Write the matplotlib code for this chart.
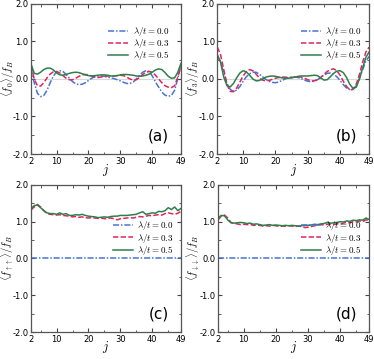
import matplotlib
matplotlib.use("Agg")
import matplotlib.pyplot as plt
from matplotlib.ticker import FixedLocator, MultipleLocator

plt.rcParams['mathtext.fontset'] = 'cm'
plt.rcParams['font.family'] = ['DejaVu Sans']

j = list(range(2, 50))
xticks = [2, 10, 20, 30, 40, 49]
yticks = [-2.0, -1.0, 0.0, 1.0, 2.0]
ytick_labels = ["-2.0", "-1.0", "0.0", "1.0", "2.0"]
labels = [r'$\lambda/t=0.0$', r'$\lambda/t=0.3$', r'$\lambda/t=0.5$']
panel_tags = ["(a)", "(b)", "(c)", "(d)"]
ylabels = [r'$\langle f_0\rangle/f_B$', r'$\langle f_3\rangle/f_B$',
           r'$\langle f_{\uparrow\uparrow}\rangle/f_B$', r'$\langle f_{\downarrow\downarrow}\rangle/f_B$']

# panel (a)
f0_l00 = [0.30, -0.10, -0.38, -0.47, -0.44, -0.30, -0.10, 0.08, 0.19, 0.22,
          0.20, 0.12, 0.02, -0.07, -0.13, -0.15, -0.14, -0.10, -0.04, 0.02,
          0.06, 0.08, 0.08, 0.07, 0.05, 0.03, 0.01, -0.02, -0.05, -0.09,
          -0.12, -0.12, -0.08, 0.00, 0.10, 0.18, 0.22, 0.20, 0.08, -0.08,
          -0.22, -0.35, -0.43, -0.46, -0.44, -0.30, 0.02, 0.38]
f0_l03 = [0.35, 0.00, -0.18, -0.19, -0.10, 0.03, 0.13, 0.19, 0.20, 0.16,
          0.09, 0.02, -0.02, -0.02, 0.02, 0.07, 0.11, 0.12, 0.11, 0.08,
          0.05, 0.04, 0.05, 0.07, 0.08, 0.08, 0.08, 0.09, 0.10, 0.09,
          0.05, 0.00, -0.03, -0.02, 0.04, 0.12, 0.18, 0.20, 0.18, 0.10,
          0.00, -0.10, -0.18, -0.22, -0.23, -0.18, 0.05, 0.35]
f0_l05 = [0.40, 0.15, 0.13, 0.18, 0.25, 0.29, 0.29, 0.24, 0.16, 0.11,
          0.10, 0.12, 0.15, 0.17, 0.18, 0.17, 0.14, 0.11, 0.09, 0.08,
          0.09, 0.10, 0.11, 0.11, 0.10, 0.08, 0.08, 0.09, 0.11, 0.12,
          0.12, 0.11, 0.10, 0.08, 0.07, 0.08, 0.10, 0.13, 0.18, 0.24,
          0.27, 0.25, 0.17, 0.07, 0.02, 0.03, 0.18, 0.42]
# panel (b)
f3_l00 = [0.62, 0.45, 0.15, -0.12, -0.28, -0.33, -0.30, -0.20, -0.06, 0.06,
          0.14, 0.18, 0.18, 0.13, 0.06, -0.01, -0.06, -0.09, -0.10, -0.08,
          -0.04, 0.00, 0.03, 0.05, 0.05, 0.04, 0.01, -0.03, -0.06, -0.07,
          -0.06, -0.02, 0.04, 0.10, 0.15, 0.16, 0.13, 0.06, -0.04, -0.15,
          -0.24, -0.28, -0.27, -0.18, 0.02, 0.25, 0.48, 0.60]
f3_l03 = [0.85, 0.65, 0.25, -0.15, -0.33, -0.34, -0.24, -0.08, 0.08, 0.20,
          0.25, 0.22, 0.13, 0.03, -0.03, -0.05, -0.04, -0.01, 0.02, 0.04,
          0.05, 0.05, 0.04, 0.04, 0.05, 0.06, 0.05, 0.02, -0.02, -0.05,
          -0.05, -0.02, 0.04, 0.12, 0.20, 0.25, 0.27, 0.22, 0.10, -0.06,
          -0.20, -0.29, -0.28, -0.14, 0.12, 0.45, 0.72, 0.85]
f3_l05 = [0.65, 0.45, 0.05, -0.18, -0.21, -0.12, 0.03, 0.16, 0.22, 0.19,
          0.10, 0.00, -0.05, -0.04, 0.00, 0.05, 0.07, 0.08, 0.07, 0.05,
          0.03, 0.02, 0.02, 0.03, 0.05, 0.07, 0.08, 0.08, 0.08, 0.09,
          0.10, 0.09, 0.03, -0.03, -0.02, 0.06, 0.15, 0.21, 0.22, 0.17,
          0.04, -0.14, -0.25, -0.22, 0.00, 0.30, 0.58, 0.72]
# panel (c)
fuu_l00 = [0.0] * 48
fuu_l03 = [1.32, 1.40, 1.47, 1.40, 1.30, 1.22, 1.20, 1.19, 1.18, 1.19,
           1.17, 1.16, 1.15, 1.13, 1.14, 1.12, 1.13, 1.11, 1.10, 1.11,
           1.10, 1.09, 1.10, 1.08, 1.09, 1.10, 1.08, 1.05, 1.08, 1.09,
           1.10, 1.11, 1.10, 1.12, 1.14, 1.13, 1.15, 1.17, 1.16, 1.18,
           1.19, 1.18, 1.22, 1.24, 1.22, 1.20, 1.23, 1.28]
fuu_l05 = [1.35, 1.44, 1.45, 1.38, 1.30, 1.24, 1.22, 1.22, 1.20, 1.24,
           1.20, 1.22, 1.17, 1.17, 1.19, 1.18, 1.20, 1.17, 1.15, 1.14,
           1.13, 1.11, 1.12, 1.13, 1.12, 1.14, 1.15, 1.15, 1.17, 1.17,
           1.17, 1.18, 1.19, 1.20, 1.24, 1.27, 1.20, 1.22, 1.24, 1.23,
           1.28, 1.27, 1.30, 1.38, 1.33, 1.40, 1.30, 1.36]
# panel (d)
fdd_l00 = [0.0] * 48
fdd_l03 = [1.05, 1.15, 1.18, 1.10, 0.98, 0.95, 0.94, 0.92, 0.93, 0.92,
           0.93, 0.90, 0.91, 0.90, 0.88, 0.89, 0.88, 0.90, 0.89, 0.87,
           0.88, 0.88, 0.89, 0.88, 0.87, 0.88, 0.87, 0.84, 0.85, 0.87,
           0.89, 0.90, 0.92, 0.91, 0.93, 0.94, 0.92, 0.95, 0.94, 0.96,
           0.98, 0.97, 1.00, 0.99, 1.02, 1.00, 1.05, 1.04]
fdd_l05 = [1.10, 1.17, 1.16, 1.05, 0.97, 0.96, 0.97, 0.98, 0.97, 0.95,
           0.96, 0.93, 0.94, 0.92, 0.90, 0.91, 0.92, 0.90, 0.91, 0.90,
           0.89, 0.90, 0.89, 0.90, 0.89, 0.88, 0.89, 0.90, 0.90, 0.91,
           0.93, 0.92, 0.94, 0.95, 0.98, 0.96, 0.97, 0.98, 1.00, 0.99,
           1.02, 1.01, 1.04, 1.03, 1.05, 1.04, 1.10, 1.06]

panels = [(f0_l00, f0_l03, f0_l05), (f3_l00, f3_l03, f3_l05),
          (fuu_l00, fuu_l03, fuu_l05), (fdd_l00, fdd_l03, fdd_l05)]

colors = ['#4674d6', '#e0245e', '#2f7f4a']
styles = [(0, (4, 1.2, 1, 1.2)), (0, (3.5, 1.5)), '-']

fig = plt.figure(figsize=(3.74, 3.59), dpi=100)
rects = [[0.083, 0.571, 0.401, 0.418], [0.581, 0.571, 0.406, 0.418],
         [0.083, 0.075, 0.401, 0.41], [0.583, 0.075, 0.404, 0.41]]
leg_anchor = [(0.92, 0.86), (0.95, 0.86), (0.95, 0.765), (0.95, 0.765)]
ylab_x = [-0.155, -0.16, -0.155, -0.165]

for k, (rect, series) in enumerate(zip(rects, panels)):
    ax = fig.add_axes(rect)
    if k < 2:
        ax.axhline(0, color='#d8d8d8', lw=0.8, zorder=0)
    for s, c, ls, lab in zip(series, colors, styles, labels):
        ax.plot(j, s, color=c, ls=ls, lw=1.1, label=lab)
    ax.set_xlim(2, 49)
    ax.set_ylim(-2, 2)
    ax.xaxis.set_major_locator(FixedLocator(xticks))
    ax.xaxis.set_minor_locator(FixedLocator([5, 15, 25, 35, 45]))
    ax.set_xticklabels([str(t) for t in xticks])
    ax.set_yticks(yticks)
    ax.set_yticklabels(ytick_labels)
    ax.yaxis.set_minor_locator(MultipleLocator(0.5))
    ax.tick_params(which='both', direction='in', top=True, right=True,
                   labelsize=6, color='#444444', pad=1.8)
    ax.tick_params(which='major', length=3)
    ax.tick_params(which='minor', length=1.8)
    for sp in ax.spines.values():
        sp.set_color('#555555')
        sp.set_linewidth(0.9)
    ax.set_xlabel(r'$j$', fontsize=9)
    ax.xaxis.set_label_coords(0.5, -0.05)
    ax.xaxis.label.set_va('top')
    ax.set_ylabel(ylabels[k], fontsize=7.5)
    ax.yaxis.set_label_coords(ylab_x[k], 0.5)
    ax.yaxis.label.set_va('center')
    ax.text(0.92, 0.07, panel_tags[k], transform=ax.transAxes, ha='right',
            va='bottom', fontsize=11)
    ax.legend(loc='upper right', bbox_to_anchor=leg_anchor[k], fontsize=6.5,
              frameon=False, handlelength=2.2, handletextpad=0.5,
              labelspacing=-0.1, borderaxespad=0, borderpad=0)

fig.savefig('out.png', dpi=100)
